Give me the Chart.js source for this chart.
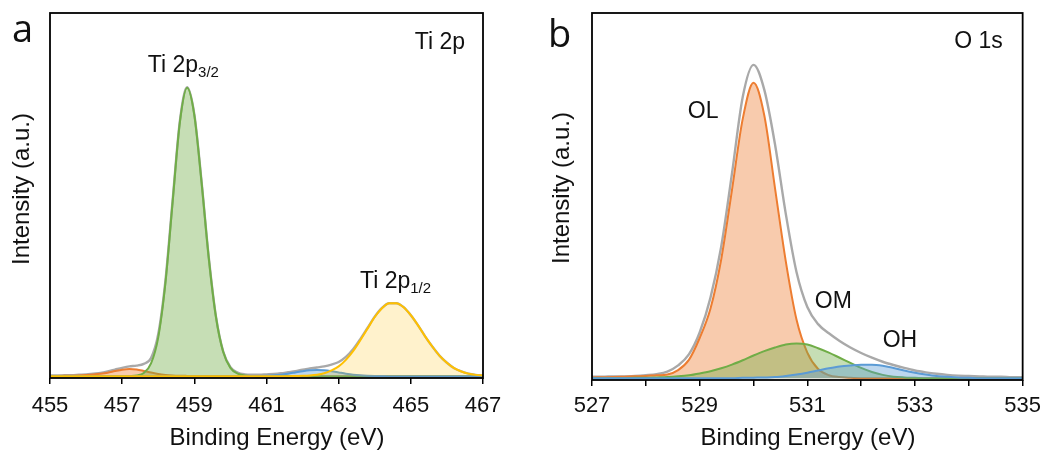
<!DOCTYPE html>
<html>
<head>
<meta charset="utf-8">
<script src="https://cdn.jsdelivr.net/npm/chart.js@4.4.0/dist/chart.umd.min.js"></script>
<style>
  html, body { margin: 0; padding: 0; background: #fff; }
  body { width: 1048px; height: 454px; position: relative; overflow: hidden; }
  .panel { position: absolute; top: 0; height: 454px; }
  #panelA { left: 0; width: 520px; }
  #panelB { left: 540px; width: 508px; }
</style>
</head>
<body>
<div class="panel" id="panelA"><canvas id="chartA"></canvas></div>
<div class="panel" id="panelB"><canvas id="chartB"></canvas></div>
<script>
"use strict";

// ---- Panel a: Ti 2p (binding energy in eV, intensity in a.u.) ----
const energyA = [
  455.0, 455.2, 455.4, 455.6, 455.8,
  456.0, 456.2, 456.4, 456.6, 456.8,
  457.0, 457.2, 457.4, 457.6, 457.8,
  458.0, 458.2, 458.4, 458.6, 458.8,
  459.0, 459.2, 459.4, 459.6, 459.8,
  460.0, 460.2, 460.4, 460.6, 460.8,
  461.0, 461.2, 461.4, 461.6, 461.8,
  462.0, 462.2, 462.4, 462.6, 462.8,
  463.0, 463.2, 463.4, 463.6, 463.8,
  464.0, 464.2, 464.4, 464.6, 464.8,
  465.0, 465.2, 465.4, 465.6, 465.8,
  466.0, 466.2, 466.4, 466.6, 466.8,
  467.0
];
const ti2p32 = [
  0, 0, 0, 0, 0,
  0, 0, 0, 0, 0,
  0, 0.05, 0.2, 0.9, 3.5,
  10.7, 25.8, 48.2, 70.0, 79.4,
  71.9, 53.5, 32.6, 16.3, 6.7,
  2.3, 0.7, 0.2, 0.05, 0,
  0, 0, 0, 0, 0,
  0, 0, 0, 0, 0,
  0, 0, 0, 0, 0,
  0, 0, 0, 0, 0,
  0, 0, 0, 0, 0,
  0, 0, 0, 0, 0,
  0
];
const ti2p12 = [
  0, 0, 0, 0, 0,
  0, 0, 0, 0, 0,
  0, 0, 0, 0, 0,
  0, 0, 0, 0, 0,
  0, 0, 0, 0, 0,
  0, 0, 0, 0, 0,
  0, 0, 0, 0, 0.05,
  0.1, 0.2, 0.4, 0.8, 1.6,
  2.7, 4.5, 6.9, 9.9, 13.1,
  16.3, 18.7, 20.1, 20.1, 19.0,
  16.8, 14.0, 10.9, 8.1, 5.6,
  3.7, 2.2, 1.3, 0.7, 0.36,
  0.17
];
const tiLowA = [
  0.05, 0.07, 0.1, 0.15, 0.22,
  0.32, 0.45, 0.65, 0.95, 1.4,
  1.8, 2.0, 1.85, 1.45, 1.0,
  0.6, 0.35, 0.2, 0.12, 0.08,
  0.05, 0.03, 0, 0, 0,
  0, 0, 0, 0, 0,
  0, 0, 0, 0, 0,
  0, 0, 0, 0, 0,
  0, 0, 0, 0, 0,
  0, 0, 0, 0, 0,
  0, 0, 0, 0, 0,
  0, 0, 0, 0, 0,
  0
];
const tiHighA = [
  0, 0, 0, 0, 0,
  0, 0, 0, 0, 0,
  0, 0, 0, 0, 0,
  0, 0, 0, 0, 0,
  0, 0, 0, 0, 0,
  0, 0, 0, 0.03, 0.06,
  0.12, 0.23, 0.42, 0.7, 1.03,
  1.36, 1.61, 1.7, 1.61, 1.36,
  1.03, 0.7, 0.42, 0.23, 0.12,
  0.06, 0.03, 0, 0, 0,
  0, 0, 0, 0, 0,
  0, 0, 0, 0, 0,
  0
];
const envelopeA = [
  0.2, 0.2, 0.25, 0.3, 0.4,
  0.5, 0.7, 0.9, 1.3, 1.8,
  2.3, 2.7, 2.9, 3.4, 5.0,
  11.6, 26.4, 48.6, 70.3, 79.6,
  72.1, 53.6, 32.7, 16.4, 6.8,
  2.5, 1.0, 0.5, 0.4, 0.4,
  0.5, 0.6, 0.8, 1.1, 1.4,
  1.8, 2.1, 2.4, 2.7, 3.2,
  3.9, 5.3, 7.4, 10.2, 13.3,
  16.4, 18.8, 20.1, 20.1, 19.0,
  16.8, 14.0, 10.9, 8.1, 5.6,
  3.7, 2.2, 1.3, 0.7, 0.36,
  0.17
];
const ticksA = [455, 457, 459, 461, 463, 465, 467];

// ---- Panel b: O 1s ----
const energyB = [
  527.0, 527.2, 527.4, 527.6, 527.8,
  528.0, 528.2, 528.4, 528.6, 528.8,
  529.0, 529.2, 529.4, 529.6, 529.8,
  530.0, 530.2, 530.4, 530.6, 530.8,
  531.0, 531.2, 531.4, 531.6, 531.8,
  532.0, 532.2, 532.4, 532.6, 532.8,
  533.0, 533.2, 533.4, 533.6, 533.8,
  534.0, 534.2, 534.4, 534.6, 534.8,
  535.0
];
const oLattice = [
  0.2, 0.25, 0.3, 0.4, 0.5,
  0.6, 0.8, 1.0, 2.2, 5.0,
  11.0, 19.0, 32.5, 51.5, 71.0,
  80.9, 72.0, 52.0, 32.0, 16.0,
  7.0, 2.5, 0.8, 0.3, 0.1,
  0, 0, 0, 0, 0,
  0, 0, 0, 0, 0,
  0, 0, 0, 0, 0,
  0
];
const oMiddle = [
  0, 0, 0, 0, 0.1,
  0.1, 0.2, 0.3, 0.5, 0.8,
  1.3, 1.9, 2.7, 3.7, 4.9,
  6.2, 7.4, 8.4, 9.2, 9.5,
  9.2, 8.2, 7.0, 5.6, 4.2,
  2.8, 1.7, 0.9, 0.4, 0.2,
  0.1, 0, 0, 0, 0,
  0, 0, 0, 0, 0,
  0
];
const oHydroxyl = [
  0, 0, 0, 0, 0,
  0, 0, 0, 0, 0,
  0, 0, 0, 0, 0.1,
  0.15, 0.2, 0.3, 0.6, 1.0,
  1.5, 2.1, 2.7, 3.2, 3.5,
  3.7, 3.7, 3.4, 2.8, 2.1,
  1.5, 1.0, 0.6, 0.4, 0.2,
  0.1, 0, 0, 0, 0,
  0
];
const envelopeB = [
  0.4, 0.4, 0.5, 0.5, 0.6,
  0.8, 1.1, 1.8, 3.5, 6.5,
  12.5, 22.0, 36.0, 56.0, 77.0,
  85.8, 79.0, 64.0, 45.0, 29.0,
  19.5, 14.8, 12.3, 10.2, 8.4,
  6.9, 5.6, 4.5, 3.6, 2.8,
  2.1, 1.6, 1.2, 0.9, 0.7,
  0.6, 0.5, 0.4, 0.4, 0.3,
  0.3
];

const FONT = "'Liberation Sans', Arial, sans-serif";
Chart.defaults.font.family = FONT;
Chart.defaults.color = "#111";

const toPoints = (xs, ys) => xs.map((x, i) => ({ x: x, y: ys[i] }));

// one fitted component or envelope line
const curve = (label, xs, ys, color, fillColor, order, width) => ({
  label: label,
  data: toPoints(xs, ys),
  borderColor: color,
  backgroundColor: fillColor || "transparent",
  fill: fillColor ? "origin" : false,
  borderWidth: width || 2,
  pointRadius: 0,
  cubicInterpolationMode: "monotone",
  order: order,
});

// frame, axis titles, peak labels and panel letter
const panelText = {
  id: "panelText",
  afterDatasetsDraw(chart, args, opts) {
    const { ctx, chartArea, scales } = chart;
    ctx.save();
    ctx.strokeStyle = "#000";
    ctx.lineWidth = 1.8;
    ctx.strokeRect(chartArea.left, chartArea.top, chartArea.width, chartArea.height);
    ctx.fillStyle = "#111";

    // axis titles
    ctx.font = "24px " + FONT;
    ctx.textAlign = "center";
    ctx.textBaseline = "middle";
    ctx.fillText("Binding Energy (eV)", opts.xTitle.x, opts.xTitle.y);
    ctx.save();
    ctx.translate(opts.yTitle.x, opts.yTitle.y);
    ctx.rotate(-Math.PI / 2);
    ctx.fillText("Intensity (a.u.)", 0, 0);
    ctx.restore();

    ctx.textBaseline = "alphabetic";
    opts.labels.forEach((l) => {
      const x = scales.x.getPixelForValue(l.x);
      const y = scales.y.getPixelForValue(l.y);
      ctx.font = "23px " + FONT;
      ctx.textAlign = l.align || "left";
      ctx.fillText(l.text, x, y);
      if (l.sub) {
        const w = ctx.measureText(l.text).width;
        ctx.font = "15px " + FONT;
        ctx.textAlign = "left";
        ctx.fillText(l.sub, x + w, y + 5);
      }
    });
    ctx.font = "38px 'Open Sans', sans-serif";
    ctx.textAlign = "left";
    ctx.fillText(opts.letter.text, opts.letter.x, opts.letter.y);
    ctx.restore();
  },
};

const makeOptions = (p) => ({
  responsive: true,
  maintainAspectRatio: false,
  animation: false,
  devicePixelRatio: 1,
  layout: { padding: { top: 13, right: p.padRight, left: 0, bottom: 0 } },
  plugins: {
    legend: { display: false },
    tooltip: { enabled: false },
    panelText: { labels: p.labels, letter: p.letter, xTitle: p.xTitle, yTitle: p.yTitle },
  },
  scales: {
    x: {
      type: "linear",
      min: p.min,
      max: p.max,
      afterFit: (scale) => { scale.height = p.xHeight; },
      border: { display: false },
      grid: {
        display: true,
        drawOnChartArea: false,
        drawTicks: true,
        tickLength: 6,
        color: "#000",
        lineWidth: 1.5,
      },
      ticks: {
        stepSize: p.step,
        autoSkip: false,
        maxRotation: 0,
        padding: p.tickPad,
        color: "#111",
        font: { size: 22 },
        callback: p.tickLabel,
      },
      title: { display: false },
    },
    y: {
      min: -0.5,
      max: 100,
      afterFit: (scale) => { scale.width = p.yWidth; },
      border: { display: false },
      grid: { display: false },
      ticks: { display: false },
      title: { display: false },
    },
  },
});

new Chart(document.getElementById("chartA"), {
  type: "line",
  data: {
    datasets: [
      curve("Envelope", energyA, envelopeA, "#a9a9a9", null, 5, 2.4),
      curve("Ti 457", energyA, tiLowA, "#ed7d31", "rgba(237,125,49,0.4)", 4),
      curve("Ti 2p3/2", energyA, ti2p32, "#70ad47", "rgba(112,173,71,0.4)", 3),
      curve("Ti 462", energyA, tiHighA, "#5b9bd5", "rgba(91,155,213,0.4)", 2),
      curve("Ti 2p1/2", energyA, ti2p12, "#ffc000", "rgba(255,192,0,0.2)", 1),
    ],
  },
  options: makeOptions({
    min: 455, max: 467, step: 2,
    padRight: 37, yWidth: 50, xHeight: 76, tickPad: 9,
    tickLabel: (v) => (ticksA.includes(v) ? v : ""),
    xTitle: { x: 277, y: 438 },
    yTitle: { x: 22, y: 189 },
    labels: [
      { text: "Ti 2p", sub: "3/2", x: 457.71, y: 83.7 },
      { text: "Ti 2p", sub: "1/2", x: 463.59, y: 24.3 },
      { text: "Ti 2p", x: 466.5, y: 90.1, align: "right" },
    ],
    letter: { text: "a", x: 12, y: 42 },
  }),
  plugins: [panelText],
});

new Chart(document.getElementById("chartB"), {
  type: "line",
  data: {
    datasets: [
      curve("Envelope", energyB, envelopeB, "#a9a9a9", null, 5, 2.4),
      curve("OL", energyB, oLattice, "#ed7d31", "rgba(237,125,49,0.4)", 4),
      curve("OM", energyB, oMiddle, "#70ad47", "rgba(112,173,71,0.4)", 3),
      curve("OH", energyB, oHydroxyl, "#5b9bd5", "rgba(91,155,213,0.4)", 2),
    ],
  },
  options: makeOptions({
    min: 527, max: 535, step: 1,
    padRight: 25, yWidth: 52, xHeight: 74, tickPad: 7,
    tickLabel: (v) => (v % 2 === 1 ? v : ""),
    xTitle: { x: 268, y: 438 },
    yTitle: { x: 22, y: 188 },
    labels: [
      { text: "OL", x: 528.78, y: 71.2 },
      { text: "OM", x: 531.14, y: 19.2 },
      { text: "OH", x: 532.4, y: 8.5 },
      { text: "O 1s", x: 534.63, y: 90.4, align: "right" },
    ],
    letter: { text: "b", x: 8, y: 47 },
  }),
  plugins: [panelText],
});
</script>
</body>
</html>
